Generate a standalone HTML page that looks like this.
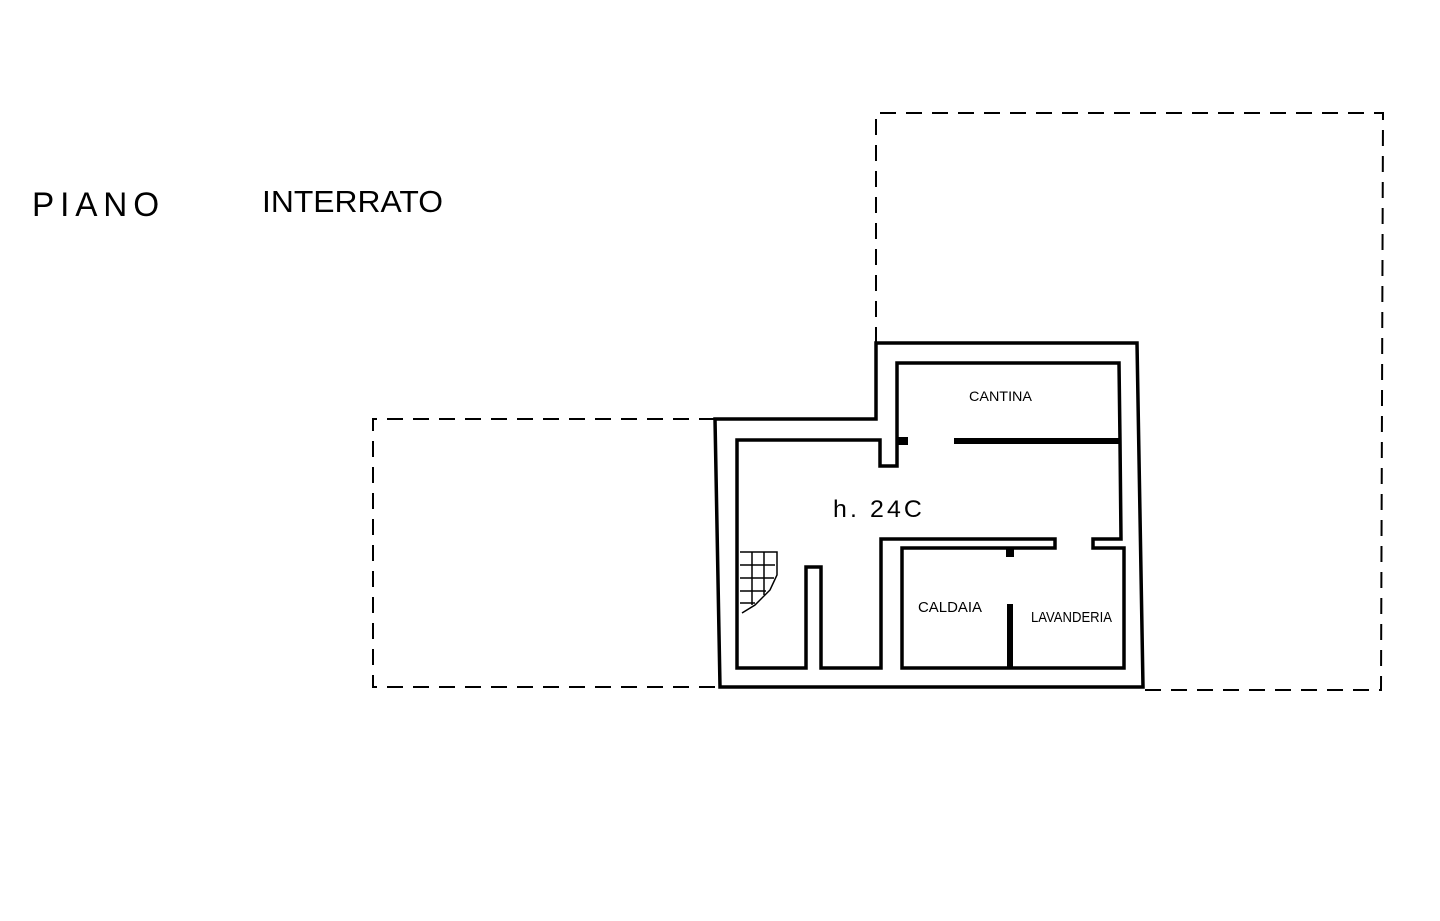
<!DOCTYPE html>
<html><head><meta charset="utf-8"><style>
html,body{margin:0;padding:0;background:#fff}
svg{display:block}
text{font-family:"Liberation Sans",sans-serif;fill:#000}
</style></head><body>
<svg width="1440" height="921" viewBox="0 0 1440 921" xmlns="http://www.w3.org/2000/svg">
<rect width="1440" height="921" fill="#fff"/>
<text x="32" y="216" font-size="34" letter-spacing="6" textLength="133" lengthAdjust="spacingAndGlyphs">PIANO</text>
<text x="262" y="212" font-size="31" textLength="181" lengthAdjust="spacingAndGlyphs">INTERRATO</text>
<g fill="none" stroke="#000" stroke-width="2" stroke-dasharray="16,10">
<path d="M715,419 L373,419 L373,687 L720,687"/>
<path d="M876,343 L876,113 L1383,113 L1381,690 L1143,690"/>
</g>
<g fill="none" stroke="#000" stroke-width="3.5" stroke-linejoin="miter">
<path d="M715,419 L876,419 L876,343 L1137,343 L1143,687 L720,687 Z"/>
<path d="M737,440 L737,668 L806,668 L806,567 L821,567 L821,668 L881,668 L881,539 L1055,539 L1055,548 L902,548 L902,668 L1124,668 L1124,548 L1093,548 L1093,539 L1121,539 L1120,441 L1119,363 L897,363 L897,466 L880,466 L880,440 Z"/>
</g>
<line x1="954" y1="441" x2="1119" y2="441" stroke="#000" stroke-width="6"/>
<line x1="1010" y1="604" x2="1010" y2="668" stroke="#000" stroke-width="6"/>
<rect x="898" y="437" width="10" height="8" fill="#000"/>
<rect x="1006" y="547" width="8" height="10" fill="#000"/>
<g stroke="#000" stroke-width="1.5" fill="none">
<path d="M740,552 L777,552 L777,575 L770,590 L755,605 L742,613"/>
<path d="M740,565 L775,565 M740,578 L774,578 M740,591 L766,591 M740,603 L755,603 M752,552 L752,605 M764,552 L764,595"/>
</g>
<text x="969" y="401" font-size="14" textLength="63" lengthAdjust="spacingAndGlyphs">CANTINA</text>
<text x="833" y="517" font-size="24" letter-spacing="3" textLength="92" lengthAdjust="spacingAndGlyphs">h. 24C</text>
<text x="918" y="612" font-size="15" textLength="64" lengthAdjust="spacingAndGlyphs">CALDAIA</text>
<text x="1031" y="622" font-size="15" textLength="81" lengthAdjust="spacingAndGlyphs">LAVANDERIA</text>
</svg>
</body></html>
